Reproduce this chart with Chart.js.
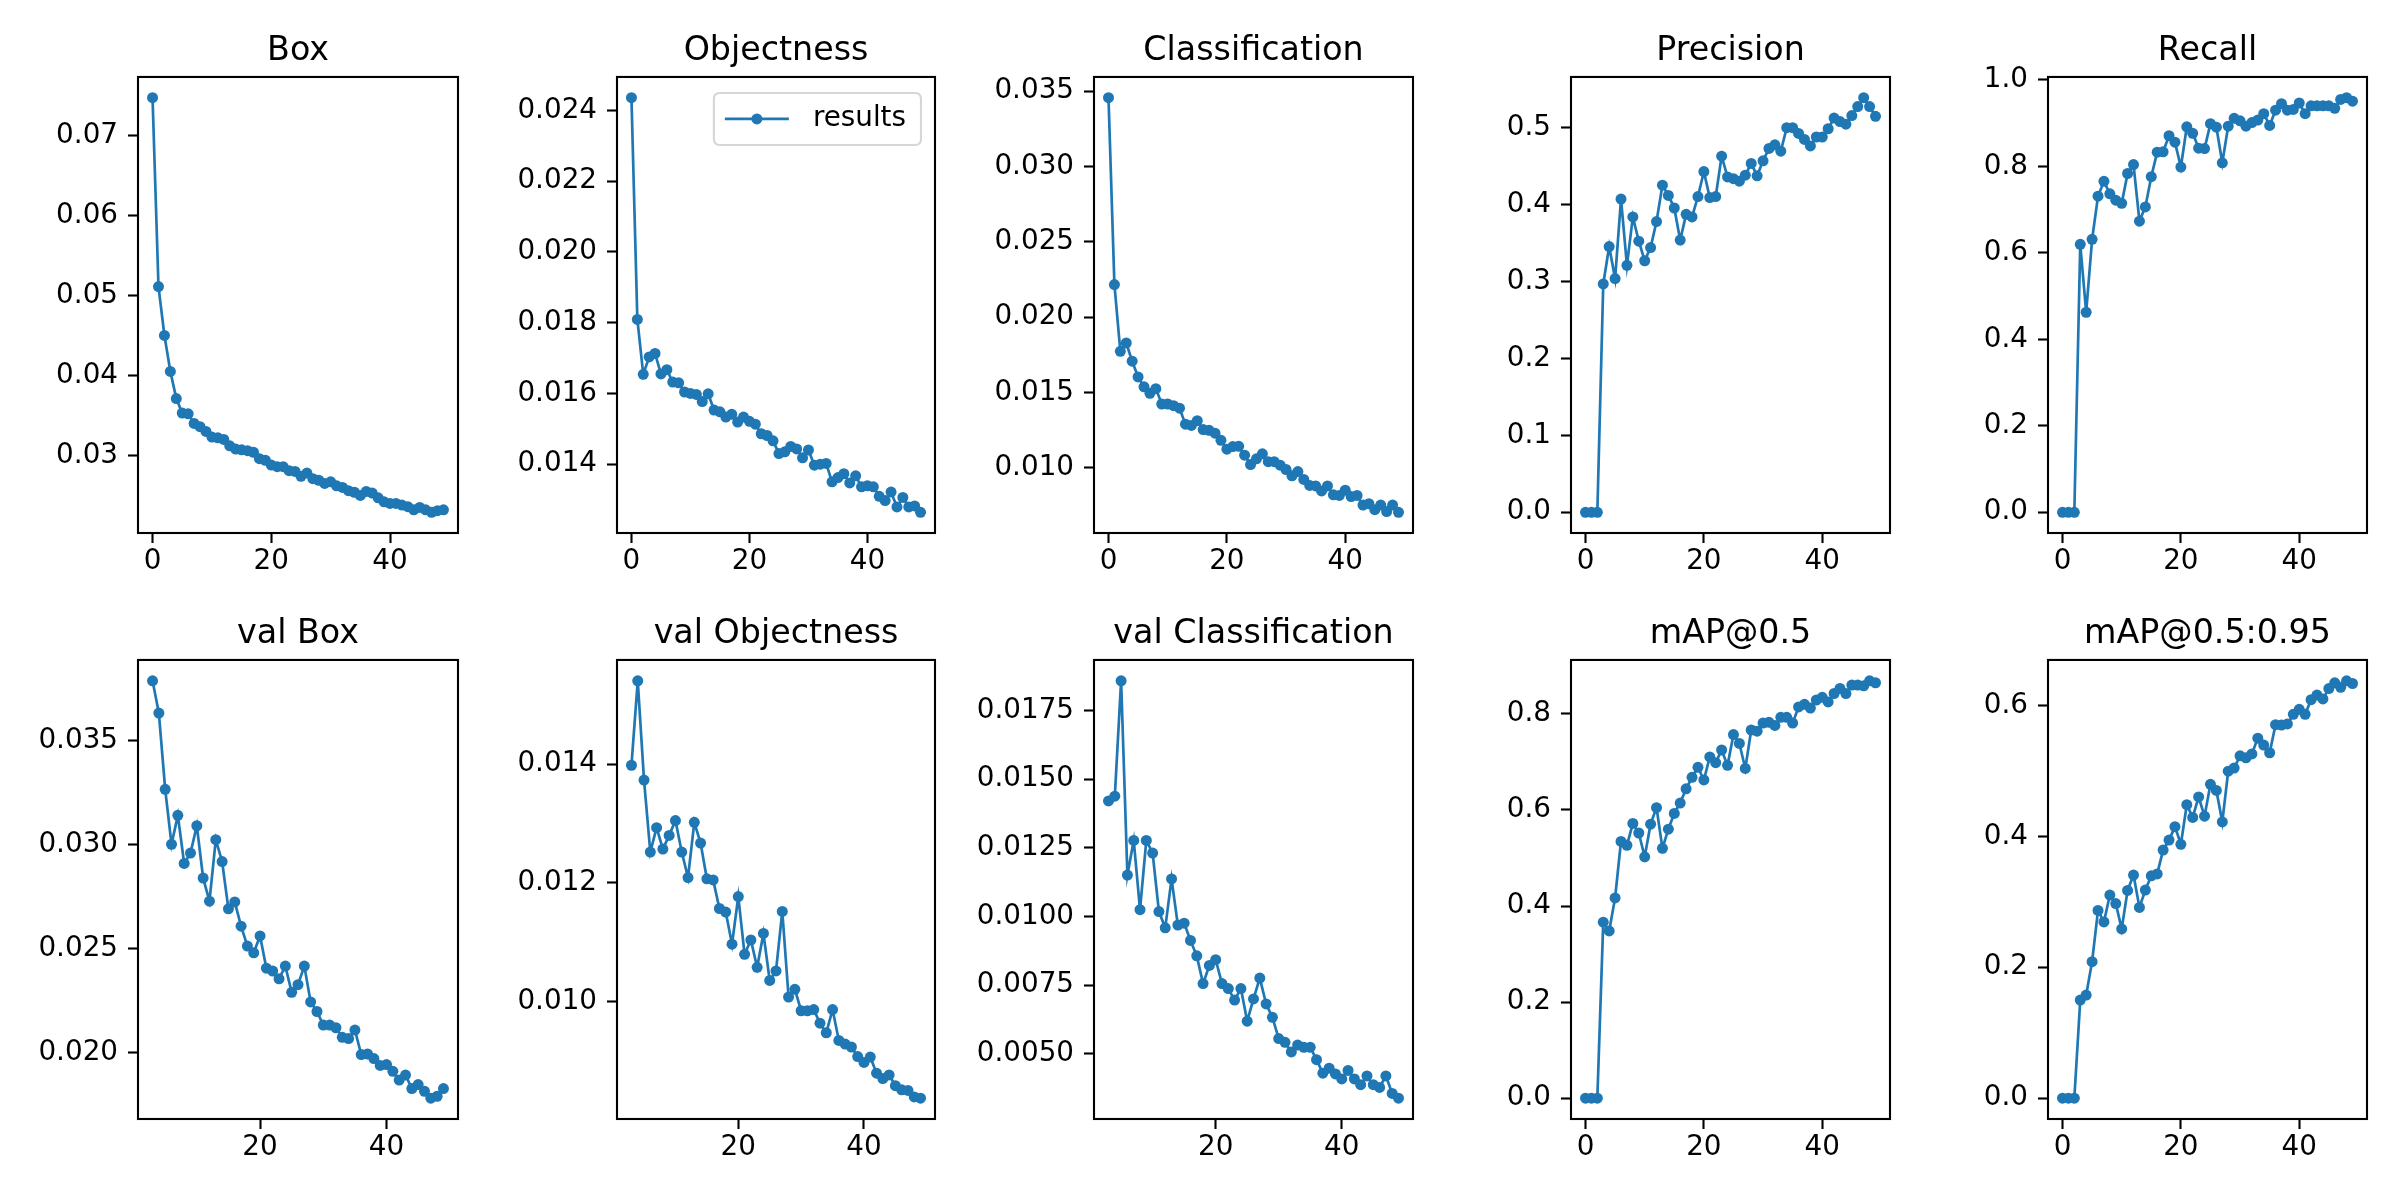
<!DOCTYPE html>
<html>
<head>
<meta charset="utf-8">
<script src="https://cdn.jsdelivr.net/npm/chart.js@4.4.1/dist/chart.umd.min.js"></script>
<style>
    html, body { margin: 0; padding: 0; background: #ffffff; }
    #figure { position: relative; width: 2400px; height: 1200px; overflow: hidden; background: #ffffff; }
    #figure canvas { position: absolute; }
</style>
</head>
<body>
<div id="figure"></div>
<script>
// epochs of the training run
var epochs = [0, 1, 2, 3, 4, 5, 6, 7, 8, 9, 10, 11, 12, 13, 14, 15, 16, 17, 18, 19,
              20, 21, 22, 23, 24, 25, 26, 27, 28, 29, 30, 31, 32, 33, 34, 35, 36, 37, 38, 39,
              40, 41, 42, 43, 44, 45, 46, 47, 48, 49];
// validation losses are only plotted from epoch 3 on
var valEpochs = epochs.slice(3);

var seriesLabel = 'results';

var boxLoss = [0.0747, 0.0511, 0.0450, 0.0405, 0.0371, 0.0353, 0.0352, 0.0340, 0.0336, 0.0330,
               0.0323, 0.0322, 0.0320, 0.0312, 0.0308, 0.0307, 0.0306, 0.0304, 0.0296, 0.0294,
               0.0288, 0.0286, 0.0286, 0.0281, 0.0280, 0.0274, 0.0278, 0.0271, 0.0269, 0.0265,
               0.0267, 0.0262, 0.0260, 0.0256, 0.0254, 0.0250, 0.0255, 0.0253, 0.0247, 0.0242,
               0.0240, 0.0240, 0.0238, 0.0236, 0.0232, 0.0235, 0.0232, 0.0229, 0.0231, 0.0232];

var objLoss = [0.02436, 0.01809, 0.01654, 0.01703, 0.01713, 0.01655, 0.01667, 0.01632, 0.01630, 0.01604,
               0.01600, 0.01597, 0.01577, 0.01599, 0.01553, 0.01548, 0.01533, 0.01541, 0.01519, 0.01533,
               0.01521, 0.01513, 0.01486, 0.01481, 0.01466, 0.01430, 0.01435, 0.01450, 0.01443, 0.01418,
               0.01440, 0.01397, 0.01400, 0.01402, 0.01350, 0.01362, 0.01373, 0.01347, 0.01367, 0.01336,
               0.01339, 0.01336, 0.01309, 0.01297, 0.01321, 0.01279, 0.01306, 0.01279, 0.01282, 0.01264];

var clsLoss = [0.03457, 0.02216, 0.01773, 0.01828, 0.01707, 0.01603, 0.01537, 0.01494, 0.01525, 0.01423,
               0.01423, 0.01412, 0.01395, 0.01289, 0.01281, 0.01312, 0.01253, 0.01248, 0.01229, 0.01182,
               0.01123, 0.01140, 0.01142, 0.01083, 0.01021, 0.01059, 0.01092, 0.01040, 0.01040, 0.01017,
               0.00988, 0.00946, 0.00974, 0.00922, 0.00882, 0.00879, 0.00846, 0.00879, 0.00820, 0.00816,
               0.00851, 0.00808, 0.00816, 0.00752, 0.00761, 0.00721, 0.00752, 0.00709, 0.00752, 0.00704];

var precision = [0, 0, 0, 0.2968, 0.3455, 0.3038, 0.4072, 0.3210, 0.3840, 0.3525,
                 0.3270, 0.3442, 0.3780, 0.4253, 0.4119, 0.3956, 0.3539, 0.3873, 0.3840, 0.4105,
                 0.4429, 0.4091, 0.4105, 0.4629, 0.4360, 0.4337, 0.4304, 0.4383, 0.4536, 0.4374,
                 0.4569, 0.4731, 0.4777, 0.4694, 0.5000, 0.5000, 0.4926, 0.4847, 0.4763, 0.4879,
                 0.4879, 0.4986, 0.5125, 0.5079, 0.5046, 0.5158, 0.5274, 0.5390, 0.5274, 0.5148];

var recall = [0, 0, 0, 0.6198, 0.4626, 0.6313, 0.7309, 0.7654, 0.7366, 0.7218,
              0.7144, 0.7835, 0.8041, 0.6733, 0.7062, 0.7761, 0.8329, 0.8337, 0.8708, 0.8560,
              0.7984, 0.8914, 0.8765, 0.8420, 0.8412, 0.8988, 0.8905, 0.8082, 0.8930, 0.9111,
              0.9053, 0.8930, 0.9012, 0.9070, 0.9218, 0.8947, 0.9300, 0.9449, 0.9300, 0.9317,
              0.9465, 0.9218, 0.9399, 0.9399, 0.9399, 0.9399, 0.9342, 0.9547, 0.9588, 0.9506];

var valBoxLoss = [0.03786, 0.03631, 0.03265, 0.03001, 0.03140, 0.02909, 0.02959, 0.03090, 0.02839, 0.02728,
                  0.03023, 0.02918, 0.02691, 0.02724, 0.02608, 0.02512, 0.02480, 0.02561, 0.02406, 0.02392,
                  0.02355, 0.02416, 0.02290, 0.02327, 0.02416, 0.02244, 0.02198, 0.02133, 0.02133, 0.02120,
                  0.02074, 0.02068, 0.02109, 0.01991, 0.01994, 0.01972, 0.01939, 0.01943, 0.01911, 0.01869,
                  0.01893, 0.01828, 0.01847, 0.01815, 0.01782, 0.01791, 0.01828];

var valObjLoss = [0.01398, 0.01540, 0.01373, 0.01252, 0.01293, 0.01257, 0.01280, 0.01305, 0.01252, 0.01209,
                  0.01302, 0.01267, 0.01207, 0.01205, 0.01157, 0.01151, 0.01097, 0.01177, 0.01080, 0.01104,
                  0.01058, 0.01115, 0.01036, 0.01052, 0.01152, 0.01008, 0.01021, 0.00985, 0.00985, 0.00987,
                  0.00964, 0.00948, 0.00987, 0.00935, 0.00929, 0.00924, 0.00908, 0.00898, 0.00907, 0.00880,
                  0.00871, 0.00877, 0.00859, 0.00852, 0.00851, 0.00840, 0.00838];

var valClsLoss = [0.01421, 0.01438, 0.01858, 0.01151, 0.01277, 0.01025, 0.01277, 0.01231, 0.01018, 0.00959,
                  0.01137, 0.00969, 0.00976, 0.00913, 0.00857, 0.00756, 0.00822, 0.00843, 0.00756, 0.00738,
                  0.00696, 0.00738, 0.00619, 0.00700, 0.00776, 0.00682, 0.00633, 0.00556, 0.00542, 0.00507,
                  0.00532, 0.00524, 0.00524, 0.00479, 0.00430, 0.00448, 0.00427, 0.00409, 0.00440, 0.00409,
                  0.00388, 0.00420, 0.00388, 0.00378, 0.00420, 0.00356, 0.00339];

var map50 = [0, 0, 0, 0.3664, 0.3480, 0.4168, 0.5344, 0.5264, 0.5720, 0.5520,
             0.5024, 0.5704, 0.6048, 0.5200, 0.5600, 0.5928, 0.6144, 0.6440, 0.6680, 0.6888,
             0.6624, 0.7104, 0.6984, 0.7248, 0.6928, 0.7568, 0.7384, 0.6864, 0.7664, 0.7640,
             0.7808, 0.7824, 0.7760, 0.7928, 0.7928, 0.7808, 0.8144, 0.8200, 0.8120, 0.8288,
             0.8344, 0.8248, 0.8424, 0.8528, 0.8424, 0.8600, 0.8600, 0.8584, 0.8688, 0.8648];

var map5095 = [0, 0, 0, 0.1499, 0.1575, 0.2086, 0.2868, 0.2692, 0.3103, 0.2974,
               0.2586, 0.3174, 0.3409, 0.2915, 0.3180, 0.3397, 0.3426, 0.3791, 0.3944, 0.4149,
               0.3879, 0.4484, 0.4290, 0.4602, 0.4308, 0.4796, 0.4702, 0.4220, 0.4996, 0.5043,
               0.5231, 0.5201, 0.5260, 0.5501, 0.5395, 0.5278, 0.5707, 0.5701, 0.5718, 0.5865,
               0.5942, 0.5865, 0.6089, 0.6159, 0.6101, 0.6259, 0.6347, 0.6277, 0.6377, 0.6336];

// tick labels
var epochTicks = ['0', '20', '40'];
var valEpochTicks = ['20', '40'];
var boxTicks = ['0.03', '0.04', '0.05', '0.06', '0.07'];
var objTicks = ['0.014', '0.016', '0.018', '0.020', '0.022', '0.024'];
var clsTicks = ['0.010', '0.015', '0.020', '0.025', '0.030', '0.035'];
var precisionTicks = ['0.0', '0.1', '0.2', '0.3', '0.4', '0.5'];
var recallTicks = ['0.0', '0.2', '0.4', '0.6', '0.8', '1.0'];
var valBoxTicks = ['0.020', '0.025', '0.030', '0.035'];
var valObjTicks = ['0.010', '0.012', '0.014'];
var valClsTicks = ['0.0050', '0.0075', '0.0100', '0.0125', '0.0150', '0.0175'];
var map50Ticks = ['0.0', '0.2', '0.4', '0.6', '0.8'];
var map5095Ticks = ['0.0', '0.2', '0.4', '0.6'];

// layout of the axes boxes in the figure
var colLeft = [138, 617, 1094, 1571, 2048];
var colRight = [458, 935, 1413, 1890, 2367];
var rowTop = [77, 660];
var rowBottom = [533, 1119];

var Y_AXIS_W = 130;
var X_AXIS_H = 70;
var TITLE_H = 60;
var SIDE_PAD = Y_AXIS_W;   // same room on the right so the title centres over the axes
var BLUE = '#1f77b4';
var FONT = 'DejaVu Sans';
var TICK_SIZE = 27.8;
var TITLE_SIZE = 33.3;
var LINE_W = 2.7;
var SPINE_W = 2.1;
var MARKER_R = 5.5;

Chart.defaults.font.family = FONT;
Chart.defaults.color = '#000000';

var panels = [
    {title: 'Box', x: epochs, y: boxLoss, yTicks: boxTicks, xTicks: epochTicks, col: 0, row: 0},
    {title: 'Objectness', x: epochs, y: objLoss, yTicks: objTicks, xTicks: epochTicks, col: 1, row: 0, legend: true},
    {title: 'Classification', x: epochs, y: clsLoss, yTicks: clsTicks, xTicks: epochTicks, col: 2, row: 0},
    {title: 'Precision', x: epochs, y: precision, yTicks: precisionTicks, xTicks: epochTicks, col: 3, row: 0},
    {title: 'Recall', x: epochs, y: recall, yTicks: recallTicks, xTicks: epochTicks, col: 4, row: 0},
    {title: 'val Box', x: valEpochs, y: valBoxLoss, yTicks: valBoxTicks, xTicks: valEpochTicks, col: 0, row: 1},
    {title: 'val Objectness', x: valEpochs, y: valObjLoss, yTicks: valObjTicks, xTicks: valEpochTicks, col: 1, row: 1},
    {title: 'val Classification', x: valEpochs, y: valClsLoss, yTicks: valClsTicks, xTicks: valEpochTicks, col: 2, row: 1},
    {title: 'mAP@0.5', x: epochs, y: map50, yTicks: map50Ticks, xTicks: epochTicks, col: 3, row: 1},
    {title: 'mAP@0.5:0.95', x: epochs, y: map5095, yTicks: map5095Ticks, xTicks: epochTicks, col: 4, row: 1}
];

// matplotlib style 5% margins around the data
function paddedRange(values)
{
    var lo = Math.min.apply(null, values);
    var hi = Math.max.apply(null, values);
    var m = (hi - lo) * 0.05;
    return [lo - m, hi + m];
}

// black box around the plot area
var framePlugin = {
    id: 'frame',
    afterDatasetsDraw: function(chart)
    {
        var ctx = chart.ctx;
        var ca = chart.chartArea;
        ctx.save();
        ctx.strokeStyle = '#000000';
        ctx.lineWidth = SPINE_W;
        ctx.strokeRect(ca.left, ca.top, ca.right - ca.left, ca.bottom - ca.top);
        ctx.restore();
    }
};

// legend box in the upper right corner, line + marker like matplotlib
var boxLegendPlugin = {
    id: 'boxLegend',
    afterDraw: function(chart)
    {
        if (!chart.options.plugins.boxLegend || !chart.options.plugins.boxLegend.show)
        {
            return;
        }
        var ctx = chart.ctx;
        var ca = chart.chartArea;
        var label = chart.data.datasets[0].label;

        ctx.save();
        ctx.font = TICK_SIZE + 'px "' + FONT + '"';
        var textW = ctx.measureText(label).width;
        var w = 11 + 64 + 24 + textW + 15;
        var h = 52;
        var x = ca.right - 14 - w;
        var y = ca.top + 16;
        var r = 6;

        ctx.beginPath();
        ctx.moveTo(x + r, y);
        ctx.lineTo(x + w - r, y);
        ctx.quadraticCurveTo(x + w, y, x + w, y + r);
        ctx.lineTo(x + w, y + h - r);
        ctx.quadraticCurveTo(x + w, y + h, x + w - r, y + h);
        ctx.lineTo(x + r, y + h);
        ctx.quadraticCurveTo(x, y + h, x, y + h - r);
        ctx.lineTo(x, y + r);
        ctx.quadraticCurveTo(x, y, x + r, y);
        ctx.closePath();
        ctx.fillStyle = 'rgba(255,255,255,0.8)';
        ctx.fill();
        ctx.strokeStyle = 'rgba(204,204,204,0.8)';
        ctx.lineWidth = SPINE_W;
        ctx.stroke();

        var cy = y + h / 2;
        ctx.strokeStyle = BLUE;
        ctx.lineWidth = LINE_W;
        ctx.beginPath();
        ctx.moveTo(x + 11, cy);
        ctx.lineTo(x + 75, cy);
        ctx.stroke();
        ctx.fillStyle = BLUE;
        ctx.beginPath();
        ctx.arc(x + 43, cy, MARKER_R, 0, Math.PI * 2);
        ctx.fill();

        ctx.fillStyle = '#000000';
        ctx.textBaseline = 'middle';
        ctx.textAlign = 'left';
        ctx.fillText(label, x + 99, cy);
        ctx.restore();
    }
};

function makePanel(p)
{
    var figure = document.getElementById('figure');
    var left = colLeft[p.col];
    var top = rowTop[p.row];
    var axesW = colRight[p.col] - left;
    var axesH = rowBottom[p.row] - top;

    var canvas = document.createElement('canvas');
    canvas.width = Y_AXIS_W + axesW + SIDE_PAD;
    canvas.height = TITLE_H + axesH + X_AXIS_H;
    canvas.style.left = (left - Y_AXIS_W) + 'px';
    canvas.style.top = (top - TITLE_H) + 'px';
    canvas.style.width = canvas.width + 'px';
    canvas.style.height = canvas.height + 'px';
    figure.appendChild(canvas);

    var points = p.x.map(function(v, i)
    {
        return {x: v, y: p.y[i]};
    });
    var xr = paddedRange(p.x);
    var yr = paddedRange(p.y);

    var grid = {
        display: true,
        drawOnChartArea: false,
        drawTicks: true,
        tickLength: 10,
        tickWidth: SPINE_W,
        tickColor: '#000000'
    };

    new Chart(canvas.getContext('2d'), {
        type: 'line',
        data: {
            datasets: [{
                label: seriesLabel,
                data: points,
                borderColor: BLUE,
                backgroundColor: BLUE,
                borderWidth: LINE_W,
                pointRadius: MARKER_R,
                pointHoverRadius: MARKER_R,
                pointBorderWidth: 0,
                pointBackgroundColor: BLUE,
                tension: 0,
                fill: false
            }]
        },
        options: {
            responsive: false,
            animation: false,
            devicePixelRatio: 1,
            events: [],
            layout: {padding: 0},
            plugins: {
                legend: {display: false},
                tooltip: {enabled: false},
                boxLegend: {show: !!p.legend},
                title: {
                    display: true,
                    text: p.title,
                    color: '#000000',
                    font: {family: FONT, size: TITLE_SIZE, weight: 'normal', lineHeight: 1.2},
                    padding: {top: TITLE_H - 45.5, bottom: 5.5}
                }
            },
            scales: {
                x: {
                    type: 'linear',
                    min: xr[0],
                    max: xr[1],
                    afterBuildTicks: function(scale)
                    {
                        scale.ticks = p.xTicks.map(function(t) { return {value: parseFloat(t)}; });
                    },
                    afterFit: function(scale)
                    {
                        scale.height = X_AXIS_H;
                    },
                    ticks: {
                        autoSkip: false,
                        maxRotation: 0,
                        padding: 2,
                        color: '#000000',
                        font: {family: FONT, size: TICK_SIZE},
                        callback: function(value, index)
                        {
                            return p.xTicks[index];
                        }
                    },
                    grid: grid,
                    border: {display: false}
                },
                y: {
                    type: 'linear',
                    min: yr[0],
                    max: yr[1],
                    afterBuildTicks: function(scale)
                    {
                        scale.ticks = p.yTicks.map(function(t) { return {value: parseFloat(t)}; });
                    },
                    afterFit: function(scale)
                    {
                        scale.width = Y_AXIS_W;
                    },
                    ticks: {
                        autoSkip: false,
                        padding: 10,
                        color: '#000000',
                        font: {family: FONT, size: TICK_SIZE},
                        callback: function(value, index)
                        {
                            return p.yTicks[index];
                        }
                    },
                    grid: grid,
                    border: {display: false}
                },
                // empty axis on the right, only there to balance the left one
                yPad: {
                    type: 'linear',
                    position: 'right',
                    display: true,
                    ticks: {display: false},
                    grid: {display: false},
                    border: {display: false},
                    afterFit: function(scale)
                    {
                        scale.width = SIDE_PAD;
                    }
                }
            }
        },
        plugins: [framePlugin, boxLegendPlugin]
    });
}

panels.forEach(makePanel);
</script>
</body>
</html>
